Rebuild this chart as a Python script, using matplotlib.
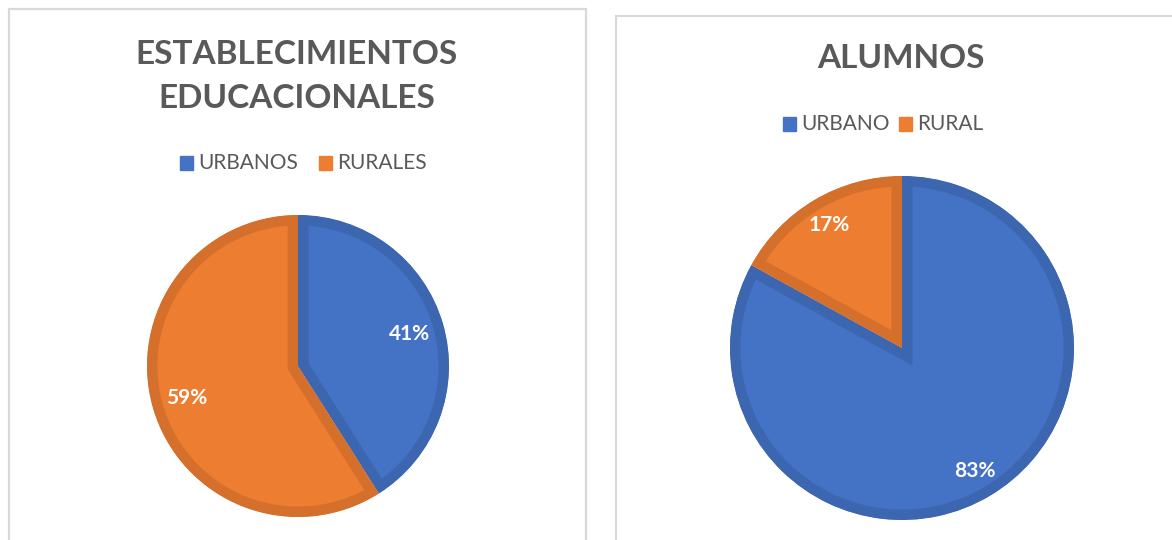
import matplotlib
matplotlib.use("Agg")
import matplotlib.pyplot as plt
from matplotlib.patches import Rectangle

plt.rcParams['font.family'] = ['Lato', 'DejaVu Sans']

W, H = 1172, 540

# data
est_labels = ['URBANOS', 'RURALES']
est_values = [41, 59]
alu_labels = ['URBANO', 'RURAL']
alu_values = [83, 17]

fills = ['#4472C4', '#ED7D31']
edges = ['#3D66B1', '#D46F2C']
gray = '#595959'

fig = plt.figure(figsize=(W / 100, H / 100), dpi=100)


def px(x, y):
    return x / W, 1 - y / H


def box(x0, y0, x1, y1):
    fig.patches.append(Rectangle((x0 / W, 1 - y1 / H), (x1 - x0) / W, (y1 - y0) / H,
                                 transform=fig.transFigure, fill=False,
                                 edgecolor='#D9D9D9', linewidth=1.6))


def draw_pie(values, cx, cy, r, pctdist):
    ax = fig.add_axes([(cx - r) / W, (H - cy - r) / H, 2 * r / W, 2 * r / H])
    wedges, _, autotexts = ax.pie(values, colors=fills, startangle=90, counterclock=False,
                                  autopct='%1.0f%%', pctdistance=pctdist,
                                  wedgeprops=dict(linewidth=15, edgecolor='none'),
                                  textprops=dict(color='white', fontsize=15, fontweight='bold'))
    ax.set_xlim(-1, 1)
    ax.set_ylim(-1, 1)
    ax.set_aspect('equal')
    ax.axis('off')
    # border drawn only on the inside of each slice
    for w, ec in zip(wedges, edges):
        w.set_edgecolor(ec)
        w.set_clip_on(True)
        w.set_clip_path(w)
    return wedges


def legend(labels, xs, y):
    for (sx, tx), lab, c in zip(xs, labels, fills):
        fig.patches.append(Rectangle(((sx) / W, 1 - (y + 7) / H), 13 / W, 14 / H,
                                     transform=fig.transFigure, color=c))
        fig.text(*px(tx, y), lab, color=gray, fontsize=15, va='center', ha='left')


# left panel
box(9, 9, 586, 560)
fig.text(*px(297, 55), 'ESTABLECIMIENTOS', color=gray, fontsize=24, fontweight='bold',
         ha='center', va='center')
fig.text(*px(297, 98), 'EDUCACIONALES', color=gray, fontsize=24, fontweight='bold',
         ha='center', va='center')
legend(est_labels, [(180, 198), (319, 337)], 163)
draw_pie(est_values, 298, 366, 151, 0.77)

# right panel
box(616, 16, 1190, 560)
fig.text(*px(901, 59), 'ALUMNOS', color=gray, fontsize=24, fontweight='bold',
         ha='center', va='center')
legend(alu_labels, [(783, 801), (899, 917)], 124)
draw_pie(alu_values, 902, 348, 172, 0.83)

fig.savefig('out.png', dpi=100)
